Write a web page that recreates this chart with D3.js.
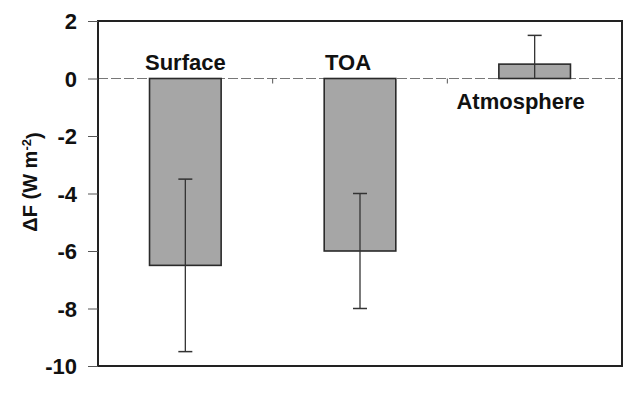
<!DOCTYPE html>
<html>
<head>
<meta charset="utf-8">
<script src="https://cdn.jsdelivr.net/npm/d3@7"></script>
<style>
  body { margin: 0; background: #fff; }
  text { font-family: Arial, "Liberation Sans", sans-serif; font-weight: bold; fill: #111; }
</style>
</head>
<body>
<div class="chart"></div>
<script>
// data
const categories = ["Surface", "TOA", "Atmosphere"];
const values     = [-6.5, -6, 0.5];
const errLow     = [-9.5, -8, 0];
const errHigh    = [-3.5, -4, 1.5];
const yTicks     = [2, 0, -2, -4, -6, -8, -10];

const margin = {top: 21, right: 7, bottom: 39, left: 98},
      width  = 629 - margin.left - margin.right,
      height = 405 - margin.top - margin.bottom;

const svg = d3.select(".chart").append("svg")
    .attr("width", 629)
    .attr("height", 405);
const g = svg.append("g")
    .attr("transform", "translate(" + margin.left + "," + margin.top + ")");

const x = d3.scaleBand()
    .domain(categories)
    .range([0, width])
    .paddingInner(0.59)
    .paddingOuter(0.295);

const y = d3.scaleLinear()
    .domain([-10, 2])
    .range([height, 0]);

const rows = categories.map((c, i) => ({
  name: c, value: values[i], lo: errLow[i], hi: errHigh[i]
}));

// zero line
g.append("line")
    .attr("x1", 0).attr("x2", width)
    .attr("y1", y(0)).attr("y2", y(0))
    .style("stroke", "#777")
    .style("stroke-width", 1.2)
    .style("stroke-dasharray", "10,3");

// small category ticks hanging off the zero line
g.selectAll(".ctick")
    .data(categories.slice(1))
  .enter().append("line")
    .attr("x1", d => x(d) - x.step() * x.paddingInner() / 2)
    .attr("x2", d => x(d) - x.step() * x.paddingInner() / 2)
    .attr("y1", y(0)).attr("y2", y(0) + 5)
    .style("stroke", "#555");

// bars
g.selectAll(".bar")
    .data(rows)
  .enter().append("rect")
    .attr("class", "bar")
    .attr("x", d => x(d.name))
    .attr("width", x.bandwidth())
    .attr("y", d => y(Math.max(0, d.value)))
    .attr("height", d => Math.abs(y(d.value) - y(0)))
    .style("fill", "#a6a6a6")
    .style("stroke", "#2a2a2a")
    .style("stroke-width", 1.6);

// error bars
const err = g.selectAll(".err")
    .data(rows)
  .enter().append("g")
    .attr("transform", d => "translate(" + (x(d.name) + x.bandwidth() / 2) + ",0)");
err.append("line")
    .attr("y1", d => y(d.lo)).attr("y2", d => y(d.hi))
    .style("stroke", "#333").style("stroke-width", 1.3);
err.append("line")
    .attr("x1", -7).attr("x2", 7)
    .attr("y1", d => d.value < 0 ? y(d.lo) : y(d.hi))
    .attr("y2", d => d.value < 0 ? y(d.lo) : y(d.hi))
    .style("stroke", "#333").style("stroke-width", 1.5);
err.filter(d => d.value < 0).append("line")
    .attr("x1", -7).attr("x2", 7)
    .attr("y1", d => y(d.hi)).attr("y2", d => y(d.hi))
    .style("stroke", "#333").style("stroke-width", 1.5);

// frame
g.append("rect")
    .attr("width", width).attr("height", height)
    .style("fill", "none")
    .style("stroke", "#222")
    .style("stroke-width", 2);

// y axis
const yAxis = g.append("g")
    .call(d3.axisLeft(y).tickValues(yTicks).tickSize(10).tickPadding(11)
      .tickFormat(d => String(d)));
yAxis.select(".domain").remove();
yAxis.selectAll("line").style("stroke", "#555");
yAxis.selectAll("text")
    .style("font-size", "22px")
    .style("font-family", "Arial, 'Liberation Sans', sans-serif")
    .style("font-weight", "bold")
    .attr("dy", "0.36em");

// category labels
const labelPos = {
  Surface:    {dx: 0,    y: y(0) - 9,  anchor: "middle"},
  TOA:        {dx: -35,  y: y(0) - 9,  anchor: "start"},
  Atmosphere: {dx: -14,  y: y(0) + 30, anchor: "middle"}
};
g.selectAll(".clabel")
    .data(categories)
  .enter().append("text")
    .attr("x", d => x(d) + x.bandwidth() / 2 + labelPos[d].dx)
    .attr("y", d => labelPos[d].y)
    .style("text-anchor", d => labelPos[d].anchor)
    .style("font-size", "22px")
    .text(d => d);

// y axis title
const yt = svg.append("text")
    .attr("transform", "translate(37,182) rotate(-90)")
    .style("text-anchor", "middle")
    .style("font-size", "20px");
yt.append("tspan").text("\u0394F (W m");
yt.append("tspan").attr("dy", "-0.5em").style("font-size", "13px").text("-2");
yt.append("tspan").attr("dy", "0.5em").text(")");
</script>
</body>
</html>
